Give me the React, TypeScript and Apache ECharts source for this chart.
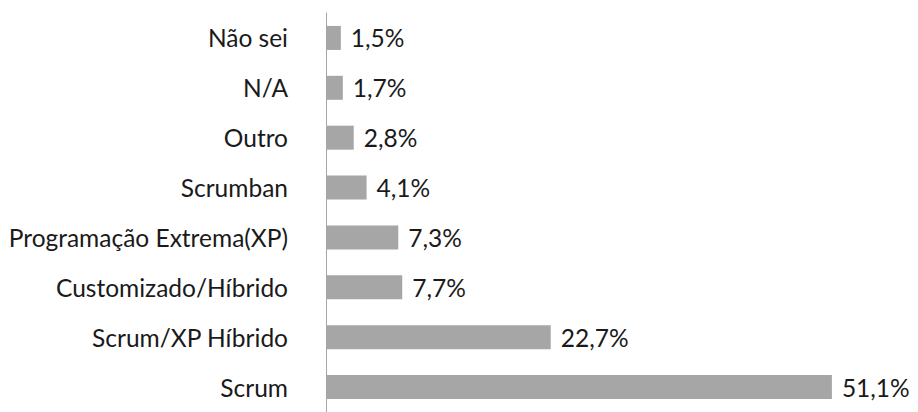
import React, { useEffect, useRef } from "react";
import * as echarts from "echarts";

const categories = [
  "Scrum",
  "Scrum/XP Híbrido",
  "Customizado/Híbrido",
  "Programação Extrema(XP)",
  "Scrumban",
  "Outro",
  "N/A",
  "Não sei",
];
const values = [51.1, 22.7, 7.7, 7.3, 4.1, 2.8, 1.7, 1.5];

export default function App() {
  const ref = useRef<HTMLDivElement>(null);
  useEffect(() => {
    if (!ref.current) return;
    const chart = echarts.init(ref.current, null, { renderer: "svg" });
    const font = "Lato";
    chart.setOption({
      animation: false,
      grid: { left: 326, top: 13, width: 544.5, height: 405, containLabel: false },
      xAxis: {
        type: "value",
        min: 0,
        max: 55,
        show: false,
      },
      yAxis: {
        type: "category",
        data: categories,
        axisLine: { show: true, lineStyle: { color: "#a6a6a6", width: 1 } },
        axisTick: { show: false },
        axisLabel: {
          margin: 38,
          color: "#1a1a1a",
          fontSize: 24.5,
          fontFamily: font,
        },
        splitLine: { show: false },
      },
      series: [
        {
          type: "bar",
          data: values,
          barWidth: 24,
          itemStyle: { color: "#a6a6a6" },
          label: {
            show: true,
            position: "right",
            distance: 10,
            color: "#1a1a1a",
            fontSize: 24.5,
            fontFamily: font,
            formatter: (p: any) => String(p.value).replace(".", ",") + "%",
          },
        },
      ],
    });
    return () => chart.dispose();
  }, []);
  return <div ref={ref} style={{ width: 918, height: 412, position: "absolute", left: 0, top: 0 }} />;
}
